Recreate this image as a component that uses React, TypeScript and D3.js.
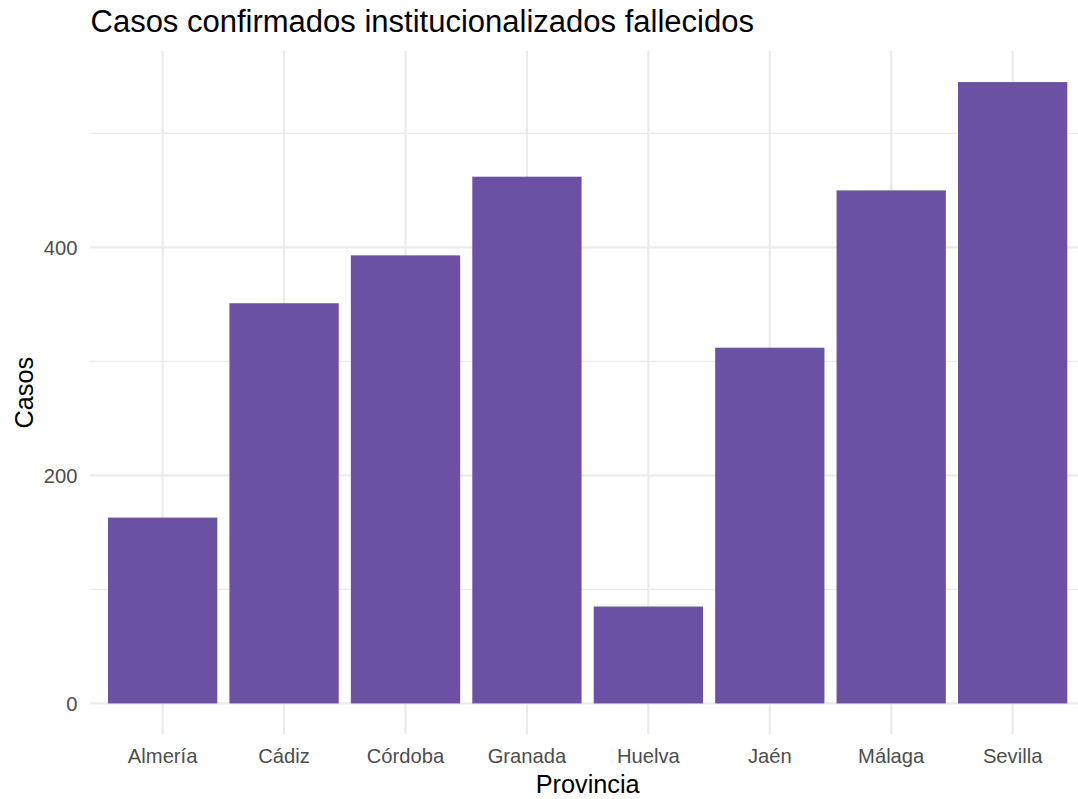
import React from "react";
import * as d3 from "d3";

const provincias = ["Almería", "Cádiz", "Córdoba", "Granada", "Huelva", "Jaén", "Málaga", "Sevilla"];
const casos = [163, 351, 393, 462, 85, 312, 450, 545];
const yMajorTicks = [0, 200, 400];
const yMinorTicks = [100, 300, 500];

const W = 1078;
const H = 799;
const FONT = "'Liberation Sans', Arial, Helvetica, sans-serif";

export default function App() {
  const panelLeft = 89.8;
  const panelRight = 1085.5;
  const panelTop = 51;
  const panelBottom = 734.5;

  const maxV = d3.max(casos) as number;
  const y = d3
    .scaleLinear()
    .domain([-0.05 * maxV, maxV * 1.05])
    .range([panelBottom, panelTop]);

  // discrete scale with 0.6 expansion
  const xPos = d3.scaleLinear().domain([0.4, provincias.length + 0.6]).range([panelLeft, panelRight]);
  const barW = (xPos(2) - xPos(1)) * 0.9;

  const gridColor = "#EBEBEB";
  const cx = (panelLeft + panelRight) / 2;
  const cy = (panelTop + panelBottom) / 2;

  return (
    <svg
      width={W}
      height={H}
      style={{ position: "absolute", left: 0, top: 0, display: "block", background: "#fff" }}
      fontFamily={FONT}
    >
      <rect x={0} y={0} width={W} height={H} fill="#fff" />
      {yMinorTicks.map((t) => (
        <line key={"mn" + t} x1={panelLeft} x2={panelRight} y1={y(t)} y2={y(t)} stroke={gridColor} strokeWidth={1.1} />
      ))}
      {yMajorTicks.map((t) => (
        <line key={"mj" + t} x1={panelLeft} x2={panelRight} y1={y(t)} y2={y(t)} stroke={gridColor} strokeWidth={2.2} />
      ))}
      {provincias.map((p, i) => (
        <line key={"vx" + p} x1={xPos(i + 1)} x2={xPos(i + 1)} y1={panelTop} y2={panelBottom} stroke={gridColor} strokeWidth={2.2} />
      ))}
      {provincias.map((p, i) => (
        <rect
          key={"b" + p}
          x={xPos(i + 1) - barW / 2}
          width={barW}
          y={y(casos[i])}
          height={y(0) - y(casos[i])}
          fill="#6A51A3"
        />
      ))}
      {yMajorTicks.map((t) => (
        <text key={"yl" + t} x={77.5} y={y(t)} dy="0.36em" textAnchor="end" fontSize={20.2} fill="#4D4D4D">
          {t}
        </text>
      ))}
      {provincias.map((p, i) => (
        <text key={"xl" + p} x={xPos(i + 1)} y={762.8} textAnchor="middle" fontSize={20.2} fill="#4D4D4D">
          {p}
        </text>
      ))}
      <text x={cx} y={792.5} textAnchor="middle" fontSize={25.3} fill="#000">
        Provincia
      </text>
      <text transform={`translate(32.5,${cy}) rotate(-90)`} textAnchor="middle" fontSize={25.3} fill="#000">
        Casos
      </text>
      <text x={90.5} y={31.5} fontSize={31} fill="#000">
        Casos confirmados institucionalizados fallecidos
      </text>
    </svg>
  );
}
